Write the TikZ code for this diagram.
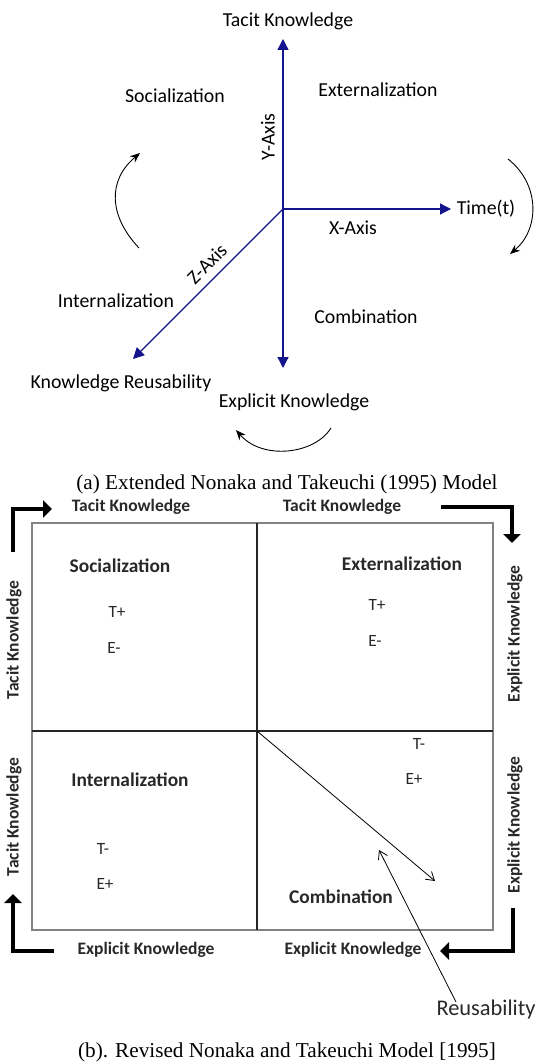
\documentclass[tikz,border=0pt]{standalone}
\usepackage{fontspec}
\setmainfont{Carlito}
\newfontfamily\capfont{Liberation Serif}
\usetikzlibrary{arrows.meta}
\definecolor{axisblue}{RGB}{20,20,140}
\definecolor{boxgray}{RGB}{130,130,130}
\definecolor{txtgray}{RGB}{40,40,40}
\tikzset{
  axisline/.style={draw=axisblue, line width=0.65pt, -{Triangle[length=5.5pt,width=5.5pt]}},
  cyclearrow/.style={draw=black, line width=0.45pt, -{Stealth[length=5pt,width=4pt]}},
  toplbl/.style={font=\fontsize{9.9}{11}\selectfont, inner sep=0pt},
  caplbl/.style={font=\capfont\fontsize{10.6}{12}\selectfont, inner sep=0pt},
  edgelbl/.style={font=\bfseries\fontsize{8.75}{10}\selectfont, text=txtgray, inner sep=0pt},
  quadlbl/.style={font=\bfseries\fontsize{9.7}{11}\selectfont, text=txtgray, inner sep=0pt},
  signlbl/.style={font=\fontsize{8.6}{10}\selectfont, text=txtgray, inner sep=0pt},
  thickarrow/.style={draw=black, line width=1.6pt, line join=miter, -{Triangle[length=4.5pt,width=8.5pt]}},
  thinarrow/.style={draw=black, line width=0.4pt, -{Straight Barb[length=4pt,width=5pt]}}
}
\begin{document}
\begin{tikzpicture}[x=0.5pt,y=-0.5pt]
\useasboundingbox (0,0) rectangle (538,1064);

% ---------- (a) ----------
\coordinate (O) at (283,209);
\coordinate (ytop) at (283,39);
\coordinate (ybot) at (283,368);
\coordinate (xend) at (451,209);
\coordinate (zend) at (133,359);
\draw[axisline] (O) -- (ytop);
\draw[axisline] (O) -- (ybot);
\draw[axisline] (O) -- (xend);
\draw[axisline] (O) -- (zend);

\node[toplbl] (tacit) at (288,21) {Tacit Knowledge};
\node[toplbl] (time) at (486,209) {Time(t)};
\node[toplbl] (xax) at (353,228) {X-Axis};
\node[toplbl, rotate=90] (yax) at (268,137) {Y-Axis};
\node[toplbl, rotate=45] (zax) at (207,264) {Z-Axis};
\node[toplbl] (soc) at (175,96) {Socialization};
\node[toplbl] (ext) at (378,90) {Externalization};
\node[toplbl] (int) at (116,301) {Internalization};
\node[toplbl] (comb) at (366,317) {Combination};
\node[toplbl] (reuse) at (121,383) {Knowledge Reusability};
\node[toplbl] (expl) at (294,402) {Explicit Knowledge};

\coordinate (la1) at (139,248);
\coordinate (la2) at (140,153);
\coordinate (ra1) at (508,159);
\coordinate (ra2) at (510,254);
\coordinate (ba1) at (331,428);
\coordinate (ba2) at (236,430);
\draw[cyclearrow] (la1) .. controls (108,215) and (108,180) .. (la2);
\draw[cyclearrow] (ra1) .. controls (541,185) and (539,230) .. (ra2);
\draw[cyclearrow] (ba1) .. controls (314,455) and (262,460) .. (ba2);

\node[caplbl] (capa) at (287,484) {(a) Extended Nonaka and Takeuchi (1995) Model};

% ---------- (b) ----------
\draw[boxgray, line width=0.8pt] (32,523) rectangle (493,930);
\coordinate (vt) at (257,523);
\coordinate (vb) at (257,930);
\coordinate (hl) at (32,731);
\coordinate (hr) at (493,731);
\draw[line width=0.55pt, black!85] (vt) -- (vb);
\draw[line width=0.55pt, black!85] (hl) -- (hr);

\coordinate (tl1) at (13,552);
\coordinate (tl2) at (52,509);
\draw[thickarrow] (tl1) |- (tl2);
\coordinate (tr1) at (441,507);
\coordinate (tr2) at (512,543);
\draw[thickarrow] (tr1) -| (tr2);
\coordinate (br1) at (513,908);
\coordinate (br2) at (440,951);
\draw[thickarrow] (br1) |- (br2);
\coordinate (bl1) at (54,951);
\coordinate (bl2) at (13,894);
\draw[thickarrow] (bl1) -| (bl2);

\node[edgelbl] (tk1) at (131,507) {Tacit Knowledge};
\node[edgelbl] (tk2) at (342,507) {Tacit Knowledge};
\node[edgelbl] (ek1) at (146,950) {Explicit Knowledge};
\node[edgelbl] (ek2) at (353,950) {Explicit Knowledge};
\node[edgelbl, rotate=90] (tk3) at (14,640) {Tacit Knowledge};
\node[edgelbl, rotate=90] (tk4) at (14,817) {Tacit Knowledge};
\node[edgelbl, rotate=90] (ek3) at (515,634) {Explicit Knowledge};
\node[edgelbl, rotate=90] (ek4) at (515,825) {Explicit Knowledge};

\node[quadlbl] (qsoc) at (120,566) {Socialization};
\node[quadlbl] (qext) at (402,564) {Externalization};
\node[quadlbl] (qint) at (130,780) {Internalization};
\node[quadlbl] (qcomb) at (341,897) {Combination};

\node[signlbl] (s1) at (117,612) {T+};
\node[signlbl] (s2) at (114,648) {E-};
\node[signlbl] (s3) at (377,605) {T+};
\node[signlbl] (s4) at (375,641) {E-};
\node[signlbl] (s5) at (419,744) {T-};
\node[signlbl] (s6) at (414,779) {E+};
\node[signlbl] (s7) at (103,849) {T-};
\node[signlbl] (s8) at (105,884) {E+};

\coordinate (dstart) at (257,731);
\coordinate (dend) at (435,881);
\draw[thinarrow] (dstart) -- (dend);
\coordinate (rstart) at (456,1002);
\coordinate (rend) at (379,850);
\draw[thinarrow] (rstart) -- (rend);

\node[font=\fontsize{11.2}{12}\selectfont, text=txtgray, inner sep=0pt] (reus) at (486,1010) {Reusability};
\node[caplbl] (capb) at (287,1052) {(b). Revised Nonaka and Takeuchi Model [1995]};
\end{tikzpicture}
\end{document}
